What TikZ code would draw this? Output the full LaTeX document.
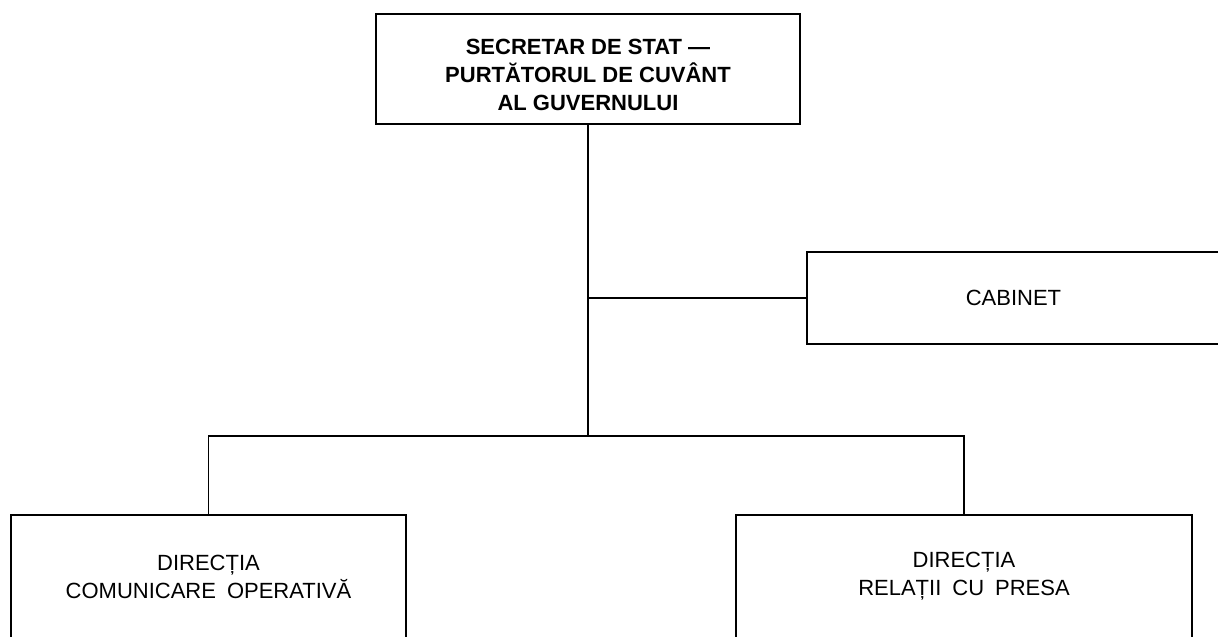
\documentclass[tikz,border=0pt]{standalone}
\usepackage{fontspec}
\setmainfont{Liberation Sans}
\newcommand{\myboxfont}{\fontsize{22}{28}\selectfont\spaceskip=11pt\relax}
\begin{document}
\begin{tikzpicture}[x=1pt,y=-1pt,
  box/.style={draw, line width=1.6pt, align=center, inner sep=0pt, font=\myboxfont},
  headbox/.style={box, font=\bfseries\fontsize{22}{28}\selectfont},
  link/.style={line width=1.4pt}]
\useasboundingbox (0,0) rectangle (1218,637);
\clip (0,0) rectangle (1218,637);
\node[headbox, minimum width=424pt, minimum height=110pt] (top) at (588,69) {\rule{0pt}{27pt}SECRETAR DE STAT —\\PURTĂTORUL DE CUVÂNT\\AL GUVERNULUI};
\node[box, minimum width=413pt, minimum height=92pt] (cab) at (1013.5,298) {CABINET};
\node[box, minimum width=395pt, minimum height=123pt] (left) at (208.5,576.5) {DIRECȚIA\\COMUNICARE OPERATIVĂ};
\node[box, minimum width=456pt, minimum height=123pt] (right) at (964,576.5) {DIRECȚIA\\RELAȚII CU PRESA};
\coordinate (j) at (588,436);
\draw[link] (top.south) -- (j);
\draw[link] (cab.west) -- (top.south |- cab.west);
\draw[link] (left.north) |- (j) -| (right.north);
\end{tikzpicture}
\end{document}
